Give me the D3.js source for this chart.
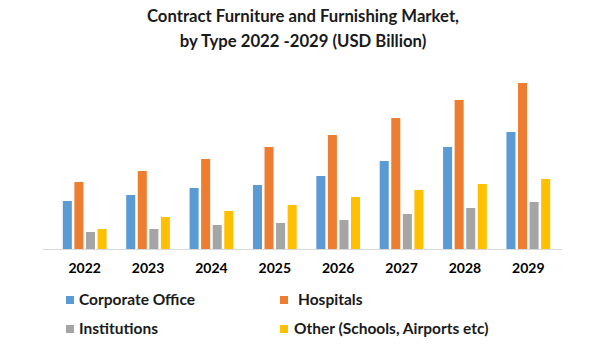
<!DOCTYPE html>
<html>
<head>
<meta charset="utf-8">
<script src="https://cdn.jsdelivr.net/npm/d3@7"></script>
<style>
  body { margin: 0; background: #fff; }
  svg { display: block; font-family: Lato, "Open Sans", sans-serif; }
</style>
</head>
<body>
<div id="chart"></div>
<script>
// dados (USD Billion, aproximado)
const years = ["2022", "2023", "2024", "2025", "2026", "2027", "2028", "2029"];
const seriesNames = ["Corporate Office", "Hospitals", "Institutions", "Other (Schools, Airports etc)"];
const corporateOffice = [4.8, 5.4, 6.1, 6.4, 7.3, 8.8, 10.2, 11.7];
const hospitals = [6.7, 7.8, 9.0, 10.2, 11.4, 13.1, 14.9, 16.6];
const institutions = [1.7, 2.0, 2.4, 2.6, 2.9, 3.5, 4.1, 4.7];
const other = [2.0, 3.2, 3.8, 4.4, 5.2, 5.9, 6.5, 7.0];
const colors = ["#5B9BD5", "#ED7D31", "#A5A5A5", "#FFC000"];

const allSeries = [corporateOffice, hospitals, institutions, other];
const data = years.map((y, i) => ({
  year: y,
  values: allSeries.map((s, k) => ({ key: seriesNames[k], value: s[i], idx: k }))
}));

const width = 605;
const height = 362;
const baseY = 249;

const svg = d3
  .select("#chart")
  .append("svg")
  .attr("width", width)
  .attr("height", height);

// titulo
svg
  .append("g")
  .selectAll("text")
  .data(["Contract Furniture and Furnishing Market,", "by Type 2022 -2029 (USD Billion)"])
  .enter()
  .append("text")
  .attr("x", 303)
  .attr("y", (d, i) => 22 + i * 25)
  .attr("text-anchor", "middle")
  .style("font-size", "16.7px")
  .style("font-weight", "bold")
  .style("fill", "#1a1a1a")
  .text((d) => d);

const x0 = d3
  .scaleBand()
  .domain(years)
  .range([53, 560])
  .paddingInner(0.31)
  .paddingOuter(0.155);

const x1 = d3
  .scaleBand()
  .domain(seriesNames)
  .range([0, x0.bandwidth()])
  .paddingInner(0.22);

const yScale = d3.scaleLinear().domain([0, 18]).range([baseY, baseY - 180]);

const groups = svg
  .selectAll(".group")
  .data(data)
  .enter()
  .append("g")
  .attr("class", "group")
  .attr("transform", (d) => `translate(${x0(d.year)},0)`);

groups
  .selectAll("rect")
  .data((d) => d.values)
  .enter()
  .append("rect")
  .attr("x", (d) => x1(d.key))
  .attr("y", (d) => yScale(d.value))
  .attr("width", x1.bandwidth())
  .attr("height", (d) => yScale(0) - yScale(d.value))
  .attr("fill", (d) => colors[d.idx]);

// linha de base
svg
  .append("line")
  .attr("x1", 43)
  .attr("x2", 562)
  .attr("y1", baseY + 0.5)
  .attr("y2", baseY + 0.5)
  .attr("stroke", "#d9d9d9")
  .attr("stroke-width", 1);

// eixo X
const xAxis = svg
  .append("g")
  .attr("transform", `translate(0,${baseY})`)
  .call(d3.axisBottom(x0).tickSize(0).tickPadding(14));
xAxis.select(".domain").remove();
xAxis
  .selectAll("text")
  .style("font-size", "14px")
  .style("font-weight", "bold")
  .style("font-family", "Lato, sans-serif")
  .style("fill", "#000");

// legenda
const legendPos = [
  { x: 66, y: 300 },
  { x: 280, y: 300 },
  { x: 66, y: 329 },
  { x: 280, y: 329 }
];
const textOffset = [13, 18, 13, 14];

const legend = svg
  .selectAll(".legend")
  .data(seriesNames)
  .enter()
  .append("g")
  .attr("class", "legend")
  .attr("transform", (d, i) => `translate(${legendPos[i].x},${legendPos[i].y})`);

legend
  .append("rect")
  .attr("x", 0)
  .attr("y", -4)
  .attr("width", 8)
  .attr("height", 8)
  .attr("fill", (d, i) => colors[i]);

legend
  .append("text")
  .attr("x", (d, i) => textOffset[i])
  .attr("y", 0)
  .attr("dy", "0.35em")
  .style("font-size", "15.5px")
  .style("font-weight", "bold")
  .style("fill", "#1a1a1a")
  .text((d) => d);
</script>
</body>
</html>
